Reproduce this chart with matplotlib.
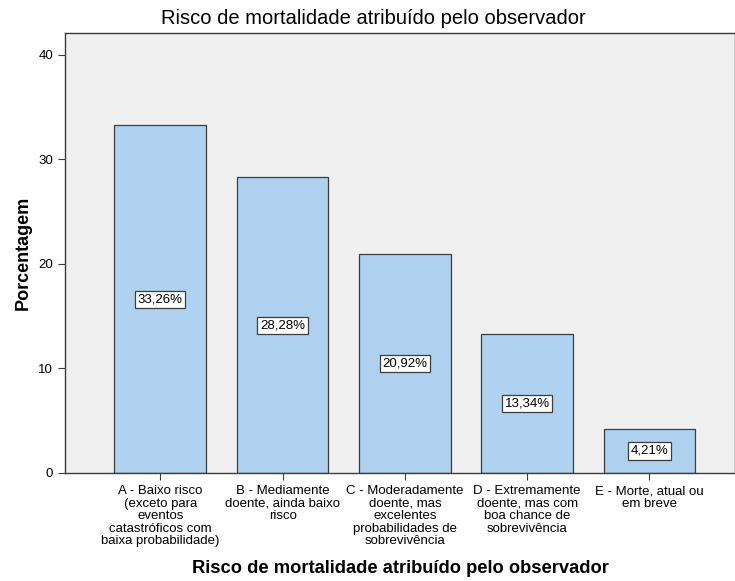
import matplotlib
matplotlib.use("Agg")
import matplotlib.pyplot as plt

categories = [
    "A - Baixo risco\n(exceto para\neventos\ncatastróficos com\nbaixa probabilidade)",
    "B - Mediamente\ndoente, ainda baixo\nrisco",
    "C - Moderadamente\ndoente, mas\nexcelentes\nprobabilidades de\nsobrevivência",
    "D - Extremamente\ndoente, mas com\nboa chance de\nsobrevivência",
    "E - Morte, atual ou\nem breve",
]
values = [33.26, 28.28, 20.92, 13.34, 4.21]
value_labels = ["33,26%", "28,28%", "20,92%", "13,34%", "4,21%"]
yticks = [0, 10, 20, 30, 40]

plt.rcParams['font.family'] = ['Liberation Sans', 'DejaVu Sans']

fig = plt.figure(figsize=(7.35, 5.81), dpi=100)
ax = fig.add_axes([0.0884, 0.1859, 0.9116, 0.7573])
ax.set_facecolor('#F0F0F0')

x = range(len(values))
ax.bar(x, values, width=0.75, color='#AED1EF', edgecolor='#3C3C3C', linewidth=0.9, zorder=2)

# value labels in boxes at mid height
for i, (v, lab) in enumerate(zip(values, value_labels)):
    ax.text(i, v / 2, lab, ha='center', va='center', fontsize=9.5, zorder=3,
            bbox=dict(boxstyle='square,pad=0.2', facecolor='white', edgecolor='#3C3C3C', linewidth=0.9))

ax.set_xlim(-0.78, 4.70)
ax.set_ylim(0, 42.1)
ax.set_yticks(yticks)
ax.set_xticks(list(x))
ax.set_xticklabels(categories, fontsize=9.5, linespacing=1.05, va='top')
ax.tick_params(axis='y', labelsize=9.5, length=5, width=0.8, color='#3C3C3C')
ax.tick_params(axis='x', length=5, width=0.8, color='#3C3C3C', pad=4)

for s in ax.spines.values():
    s.set_color('#3C3C3C')
    s.set_linewidth(1.0)

ax.set_ylabel('Porcentagem', fontsize=13, fontweight='bold', labelpad=5)
ax.set_xlabel('Risco de mortalidade atribuído pelo observador', fontsize=13.2, fontweight='bold', labelpad=9)
fig.text(373 / 735, 1 - 18 / 581, 'Risco de mortalidade atribuído pelo observador',
         fontsize=14.5, ha='center', va='center')

plt.savefig('out.png', dpi=100)
